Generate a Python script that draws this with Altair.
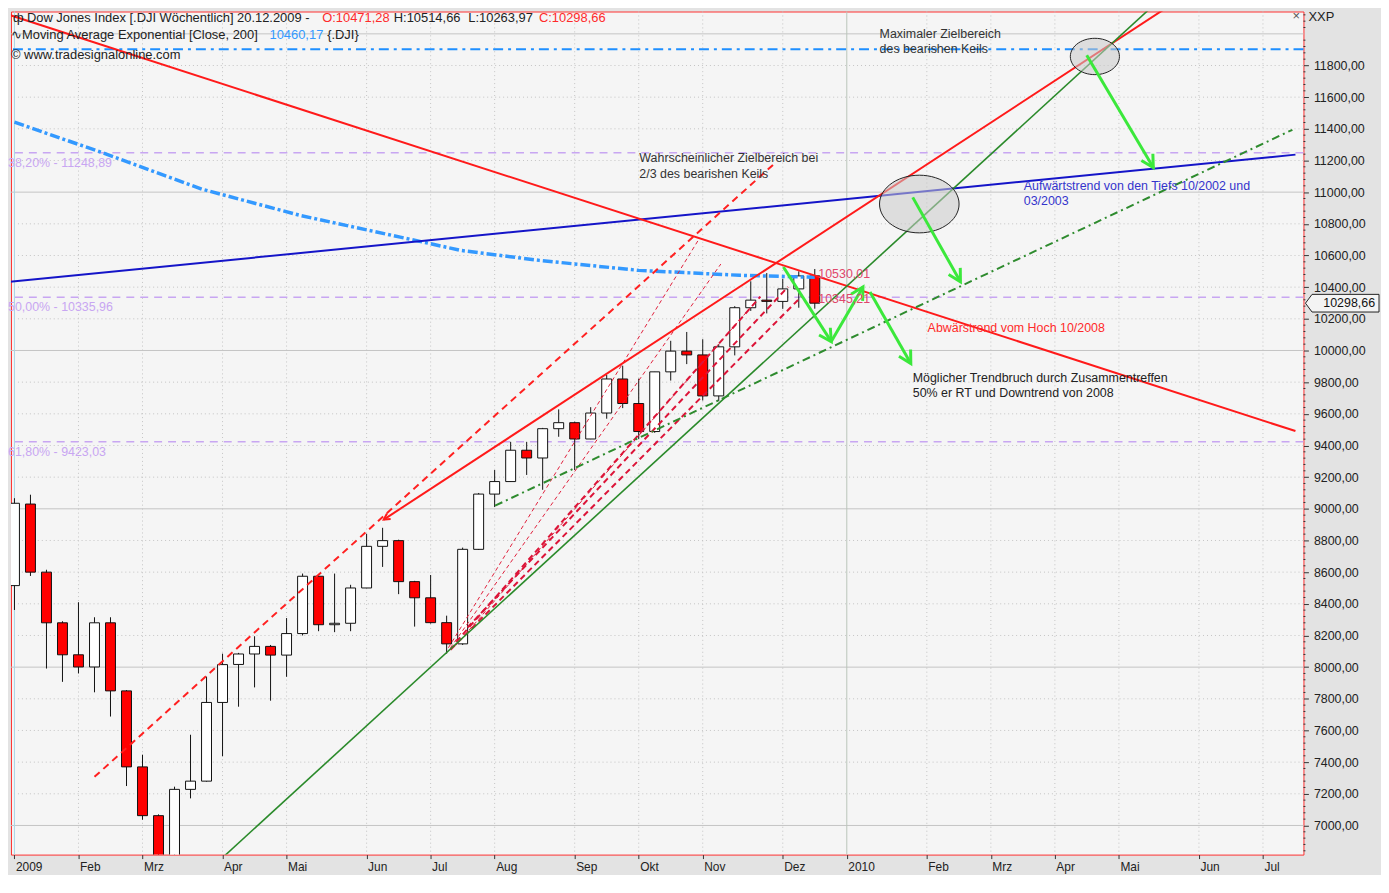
import math
import altair as alt
import pandas as pd

# ---------------- data ----------------
weeks = list(range(51))
opens = [8515, 9030, 8600, 8280, 8078, 8001, 8280, 7850, 7370, 7062,
         6627, 7228, 7280, 7777, 8017, 8083, 8131, 8076, 8212, 8574,
         8268, 8277, 8500, 8763, 8799, 8540, 8438, 8281, 8147, 8744,
         9093, 9172, 9370, 9321, 9506, 9544, 9441, 9605, 9820, 9665,
         9488, 9865, 9996, 9972, 9713, 10023, 10270, 10318, 10310, 10389,
         10471.28]
highs = [9067, 9089, 8615, 8290, 8410, 8315, 8315, 7855, 7447, 7070,
         7245, 7573, 7940, 8085, 8090, 8195, 8140, 8310, 8591, 8580,
         8591, 8520, 8842, 8880, 8805, 8545, 8582, 8325, 8755, 9100,
         9245, 9423, 9423, 9511, 9628, 9550, 9642, 9845, 9904, 9822,
         9865, 10061, 10117, 10071, 10040, 10280, 10437, 10489, 10452, 10500,
         10514.66]
lows = [8361, 8576, 7991, 7907, 7960, 7841, 7688, 7249, 7036, 6470,
        6470, 7171, 7276, 7437, 7750, 7872, 7788, 7939, 8200, 8227,
        8221, 8227, 8499, 8633, 8461, 8256, 8275, 8085, 8140, 8740,
        9011, 9170, 9214, 9120, 9455, 9245, 9440, 9569, 9636, 9440,
        9480, 9810, 9914, 9684, 9680, 9969, 10250, 10234, 10263, 10270,
        10263.97]
closes = [9035, 8600, 8280, 8078, 8001, 8280, 7850, 7370, 7062, 6627,
          7228, 7280, 7777, 8016, 8083, 8131, 8076, 8212, 8574, 8268,
          8277, 8500, 8763, 8799, 8540, 8438, 8281, 8147, 8744, 9093,
          9172, 9370, 9321, 9506, 9544, 9441, 9605, 9820, 9665, 9488,
          9865, 9996, 9972, 9713, 10023, 10270, 10318, 10310, 10389, 10471,
          10298.66]

ema_weeks = [0.0, 5.5, 11.7, 17.9, 24.1, 27.9, 32.8, 39.0, 45.3, 50.0]
ema_values = [11442, 11249, 11019, 10852, 10716, 10632, 10569, 10506, 10475, 10462]

fib_levels = [11248.89, 10335.96, 9423.03]
fib_labels = ["38,20% - 11248,89", "50,00% - 10335,96", "61,80% - 9423,03"]
fib_label_levels = [11186, 10276, 9359]
max_target_level = [11902]

month_ticks = [0, 4, 8, 13, 17, 22, 26, 30, 35, 39, 43, 48, 52, 57, 61, 65, 69, 74, 78]
month_labels = ["2009", "Feb", "Mrz", "Apr", "Mai", "Jun", "Jul", "Aug", "Sep", "Okt",
                "Nov", "Dez", "2010", "Feb", "Mrz", "Apr", "Mai", "Jun", "Jul"]

# trend lines: (week1, price1, week2, price2)
red_solid_lines = {"down_2008": (-0.40, 12122, 80.03, 9491),
                   "wedge_top": (23.07, 8932, 72.08, 12172)}
blue_line = {"up_2002": (-0.40, 10433, 80.03, 11237)}
green_solid = {"wedge_bottom": (13.07, 6803, 71.15, 12179)}
green_dashdot = {"support": (30.03, 9020, 79.84, 11394)}
red_dashed_thick = {"channel": (5.0, 7307, 47.55, 11187)}
crimson_dashed_thick = {"k1": (27.24, 8110, 49.16, 10340),
                        "k2": (28.30, 8250, 48.33, 10402),
                        "k3": (27.60, 8160, 46.60, 10340)}
crimson_dashed_thin = {"t1": (27.11, 8122, 42.76, 10703),
                       "t2": (27.24, 8122, 44.13, 10546),
                       "t3": (27.55, 8135, 46.30, 10308)}
lime_arrows = {"a1": (48.04, 10527, 51.03, 10056),
               "a2": (51.03, 10056, 53.01, 10401),
               "a3": (53.45, 10370, 56.00, 9918),
               "a4": (56.12, 10967, 59.10, 10434),
               "a5": (66.99, 11865, 71.15, 11155)}
ellipse_centers_w = [56.53, 67.5]
ellipse_centers_v = [10925, 11857]

notes_text = ["Maximaler Zielbereich", "des bearishen Keils",
              "Wahrscheinlicher Zielbereich bei", "2/3 des bearishen Keils",
              "Aufwärtstrend von den Tiefs  10/2002 und", "03/2003",
              "Abwärstrend vom Hoch 10/2008",
              "Möglicher Trendbruch durch Zusammentreffen", "50% er RT und Downtrend von 2008",
              "10530,01", "10345,21"]
notes_w = [54.05, 54.05, 39.04, 39.04, 63.06, 63.06, 57.05, 56.12, 56.12, 50.22, 50.22]
notes_v = [11998, 11902, 11218, 11117, 11036, 10942, 10144, 9824, 9731, 10483, 10326]
notes_color = ["#333333", "#333333", "#333333", "#333333", "#3434cc", "#3434cc",
               "#ff2a2a", "#222222", "#222222", "#e0476b", "#e0476b"]

last_close = [10298.66]

# ---------------- layout ----------------
W, H = 1300, 848
X_DOMAIN = [-0.217, 80.53]
Y_DOMAIN = [6816, 12141]
PXW = W / (X_DOMAIN[1] - X_DOMAIN[0])
PXV = H / (Y_DOMAIN[1] - Y_DOMAIN[0])
FONT = "Liberation Sans"
xs = alt.Scale(domain=X_DOMAIN, nice=False, zero=False, padding=0)
ys = alt.Scale(domain=Y_DOMAIN, nice=False, zero=False, padding=0)

x_axis = alt.Axis(values=month_ticks, title=None, orient="bottom", grid=False, domain=False,
                  labelExpr="[" + ",".join(f"'{m}'" for m in month_labels) + "][indexof(["
                  + ",".join(str(m) for m in month_ticks) + "], datum.value)]",
                  tickColor="#333333", tickSize=4, labelAlign="left", labelOffset=1, labelPadding=3,
                  labelBaseline="top", labelFont=FONT, labelFontSize=12, labelColor="#222222",
                  labelFlush=False, labelOverlap=False)
y_axis = alt.Axis(values=list(range(7000, 12000, 200)), title=None, orient="right", grid=False,
                  domain=False, labelExpr="replace(format(datum.value, '.2f'), '.', ',')",
                  tickColor="#333333", tickSize=5, labelPadding=5, labelFont=FONT, labelFontSize=12.5,
                  labelColor="#222222", labelFlush=False, labelOverlap=False)


def xq(f):
    return alt.X(f, type="quantitative", scale=xs, axis=x_axis)


def yq(f):
    return alt.Y(f, type="quantitative", scale=ys, axis=y_axis)


def seg_df(d):
    rows = []
    for k, (a, b, c, e) in d.items():
        rows.append({"id": k, "w": a, "v": b, "o": 0})
        rows.append({"id": k, "w": c, "v": e, "o": 1})
    return pd.DataFrame(rows)


def line_layer(d, color, width, dash=None, opacity=1.0):
    kw = dict(color=color, strokeWidth=width, clip=True, opacity=opacity)
    if dash:
        kw["strokeDash"] = dash
    return alt.Chart(seg_df(d)).mark_line(**kw).encode(
        x=xq("w"), y=yq("v"), detail="id:N", order="o:Q")


def head_df(d, at_start=False):
    rows = []
    for k, (a, b, c, e) in d.items():
        if at_start:
            a, b, c, e = c, e, a, b
        dx = (c - a) * PXW
        dy = -(e - b) * PXV
        ang = math.degrees(math.atan2(dx, -dy)) % 360
        rows.append({"w": c, "v": e, "ang": ang})
    return pd.DataFrame(rows)


HEAD = "M-0.55,1 L0,0 L0.55,1"


def ellipse_path(ratio, n=60):
    pts = [(math.cos(2 * math.pi * k / n), ratio * math.sin(2 * math.pi * k / n)) for k in range(n)]
    return "M" + " L".join(f"{x:.3f},{y:.3f}" for x, y in pts) + " Z"


layers = []

# grid
major_levels = [v for v in range(7000, 12001, 1000)]
minor_levels = [v for v in range(7000, 12001, 200) if v % 1000 != 0]
layers.append(alt.Chart(pd.DataFrame({"v": minor_levels})).mark_rule(
    color="#c4c4c4", strokeDash=[1, 3], strokeWidth=1).encode(y=yq("v")))
layers.append(alt.Chart(pd.DataFrame({"v": major_levels})).mark_rule(
    color="#c4c4c4", strokeWidth=1).encode(y=yq("v")))
vdot = [m for m in month_ticks if m not in (0, 52)]
layers.append(alt.Chart(pd.DataFrame({"w": vdot})).mark_rule(
    color="#c4c4c4", strokeDash=[1, 3], strokeWidth=1).encode(x=xq("w")))
layers.append(alt.Chart(pd.DataFrame({"w": [52]})).mark_rule(
    color="#b9c6b9", strokeWidth=1).encode(x=xq("w")))
layers.append(alt.Chart(pd.DataFrame({"w": [0]})).mark_rule(
    color="#a9d7e6", strokeWidth=1).encode(x=xq("w")))

# fibonacci levels
layers.append(alt.Chart(pd.DataFrame({"v": fib_levels})).mark_rule(
    color="#c8a6f2", strokeWidth=1.5, strokeDash=[8, 6]).encode(y=yq("v")))
layers.append(alt.Chart(pd.DataFrame({"t": fib_labels, "v": fib_label_levels,
                                      "w": [-0.40] * 3})).mark_text(
    align="left", baseline="middle", font=FONT, fontSize=12.5, color="#c8a6f2").encode(
    x=xq("w"), y=yq("v"), text="t:N"))

# max target line
layers.append(alt.Chart(pd.DataFrame({"v": max_target_level})).mark_rule(
    color="#1e8fff", strokeWidth=2, strokeDash=[10, 5, 3, 5]).encode(y=yq("v")))

# candles
cdf = pd.DataFrame({"w": weeks, "open": opens, "high": highs, "low": lows, "close": closes})
cdf["lo"] = cdf[["open", "close"]].min(axis=1)
cdf["hi"] = cdf[["open", "close"]].max(axis=1)
cdf["dir"] = ["up" if c >= o else "down" for o, c in zip(opens, closes)]

layers.append(alt.Chart(cdf).mark_rule(color="#111111", strokeWidth=1, clip=True).encode(
    x=xq("w"), y=yq("low"), y2="high:Q"))
layers.append(alt.Chart(cdf).mark_bar(size=10, stroke="#111111", strokeWidth=1, clip=True).encode(
    x=xq("w"), y=yq("lo"), y2="hi:Q",
    fill=alt.Fill("dir:N", scale=alt.Scale(domain=["up", "down"], range=["#ffffff", "#ff0000"]),
                  legend=None)))

# EMA 200
layers.append(alt.Chart(pd.DataFrame({"w": ema_weeks, "v": ema_values})).mark_line(
    color="#3399ff", strokeWidth=3.5, strokeDash=[10, 3, 3, 3], clip=True).encode(
    x=xq("w"), y=yq("v")))

# trend lines
layers.append(line_layer(blue_line, "#1414c8", 2))
layers.append(line_layer(crimson_dashed_thin, "#e0203c", 1, [4, 3]))
layers.append(line_layer(crimson_dashed_thick, "#dc1438", 2, [6, 4]))
layers.append(line_layer(red_dashed_thick, "#ff2020", 2, [7, 5]))
layers.append(line_layer(red_solid_lines, "#ff1a1a", 2))
layers.append(line_layer(green_solid, "#2a8a2a", 1.6))
layers.append(line_layer(green_dashdot, "#2e8b2e", 2, [8, 4, 2, 4]))
layers.append(alt.Chart(head_df({"wedge_top": red_solid_lines["wedge_top"]}, at_start=True)).mark_point(
    shape=HEAD, size=150, filled=False, color="#ff1a1a", strokeWidth=2, opacity=1).encode(
    x=xq("w"), y=yq("v"), angle=alt.Angle("ang:Q", scale=None)))

# ellipses
ell = pd.DataFrame({"w": ellipse_centers_w, "v": ellipse_centers_v})
layers.append(alt.Chart(ell.iloc[[0]]).mark_point(
    shape=ellipse_path(0.725), size=6400, filled=True, fill="#c8c8c8", fillOpacity=0.55,
    stroke="#222222", strokeWidth=1, opacity=1).encode(x=xq("w"), y=yq("v")))
layers.append(alt.Chart(ell.iloc[[1]]).mark_point(
    shape=ellipse_path(0.74), size=2440, filled=True, fill="#c8c8c8", fillOpacity=0.55,
    stroke="#222222", strokeWidth=1, opacity=1).encode(x=xq("w"), y=yq("v")))

# lime arrows
layers.append(line_layer(lime_arrows, "#3be83b", 3))
layers.append(alt.Chart(head_df(lime_arrows)).mark_point(
    shape=HEAD, size=600, filled=False, color="#3be83b", strokeWidth=3, opacity=1).encode(
    x=xq("w"), y=yq("v"), angle=alt.Angle("ang:Q", scale=None)))

# annotations
ndf = pd.DataFrame({"t": notes_text, "w": notes_w, "v": notes_v, "c": notes_color})
layers.append(alt.Chart(ndf).mark_text(align="left", baseline="middle", font=FONT, fontSize=12.5).encode(
    x=xq("w"), y=yq("v"), text="t:N", color=alt.Color("c:N", scale=None)))

# header texts
header = [("ф", 2, 7, "#222222"),
          ("Dow Jones Index [.DJI  Wöchentlich] 20.12.2009 -", 16, 7, "#222222"),
          ("O:10471,28", 313, 7, "#ff2a2a"),
          ("H:10514,66", 385, 7, "#222222"),
          ("L:10263,97", 460, 7, "#222222"),
          ("C:10298,66", 531, 7, "#ff2a2a"),
          ("∿Moving Average Exponential [Close, 200]", 0, 24, "#222222"),
          ("10460,17", 260, 24, "#3399ff"),
          ("{.DJI}", 318, 24, "#222222"),
          ("© www.tradesignalonline.com", 0, 44, "#222222"),
          ("XXP", 1305, 6, "#222222"),
          ("×", 1289, 5, "#555555")]
for t, px, py, col in header:
    layers.append(alt.Chart(pd.DataFrame({"t": [t]})).mark_text(
        align="left", baseline="middle", font=FONT, fontSize=13, color=col).encode(
        text="t:N", x=alt.value(px), y=alt.value(py)))

# minor y ticks
minor_ticks = [v for v in range(6840, 12141, 40) if v % 200 != 0]
layers.append(alt.Chart(pd.DataFrame({"v": minor_ticks})).mark_rule(
    color="#333333", strokeWidth=1).encode(y=yq("v"), x=alt.value(W), x2=alt.value(W + 2)))

# last price box
BOX = "M-1,0 L-0.82,-0.24 L1,-0.24 L1,0.24 L-0.82,0.24 Z"
lp = pd.DataFrame({"v": last_close, "t": ["10298,66"]})
layers.append(alt.Chart(lp).mark_point(shape=BOX, size=5476, filled=True, fill="#f4f4f4",
                                       stroke="#222222", strokeWidth=1, opacity=1).encode(
    x=alt.value(W + 39), y=yq("v")))
layers.append(alt.Chart(lp).mark_text(align="right", baseline="middle", font=FONT, fontSize=12.5,
                                      color="#111111").encode(
    x=alt.value(W + 72), y=yq("v"), text="t:N"))

chart = alt.layer(*layers).properties(
    width=W, height=H, padding=0, background="#e3e3e3"
).configure_view(fill="#f5f5f5", stroke="#ff3030", strokeWidth=1)

chart.save("out.html", embed_options={"renderer": "svg", "actions": False})
